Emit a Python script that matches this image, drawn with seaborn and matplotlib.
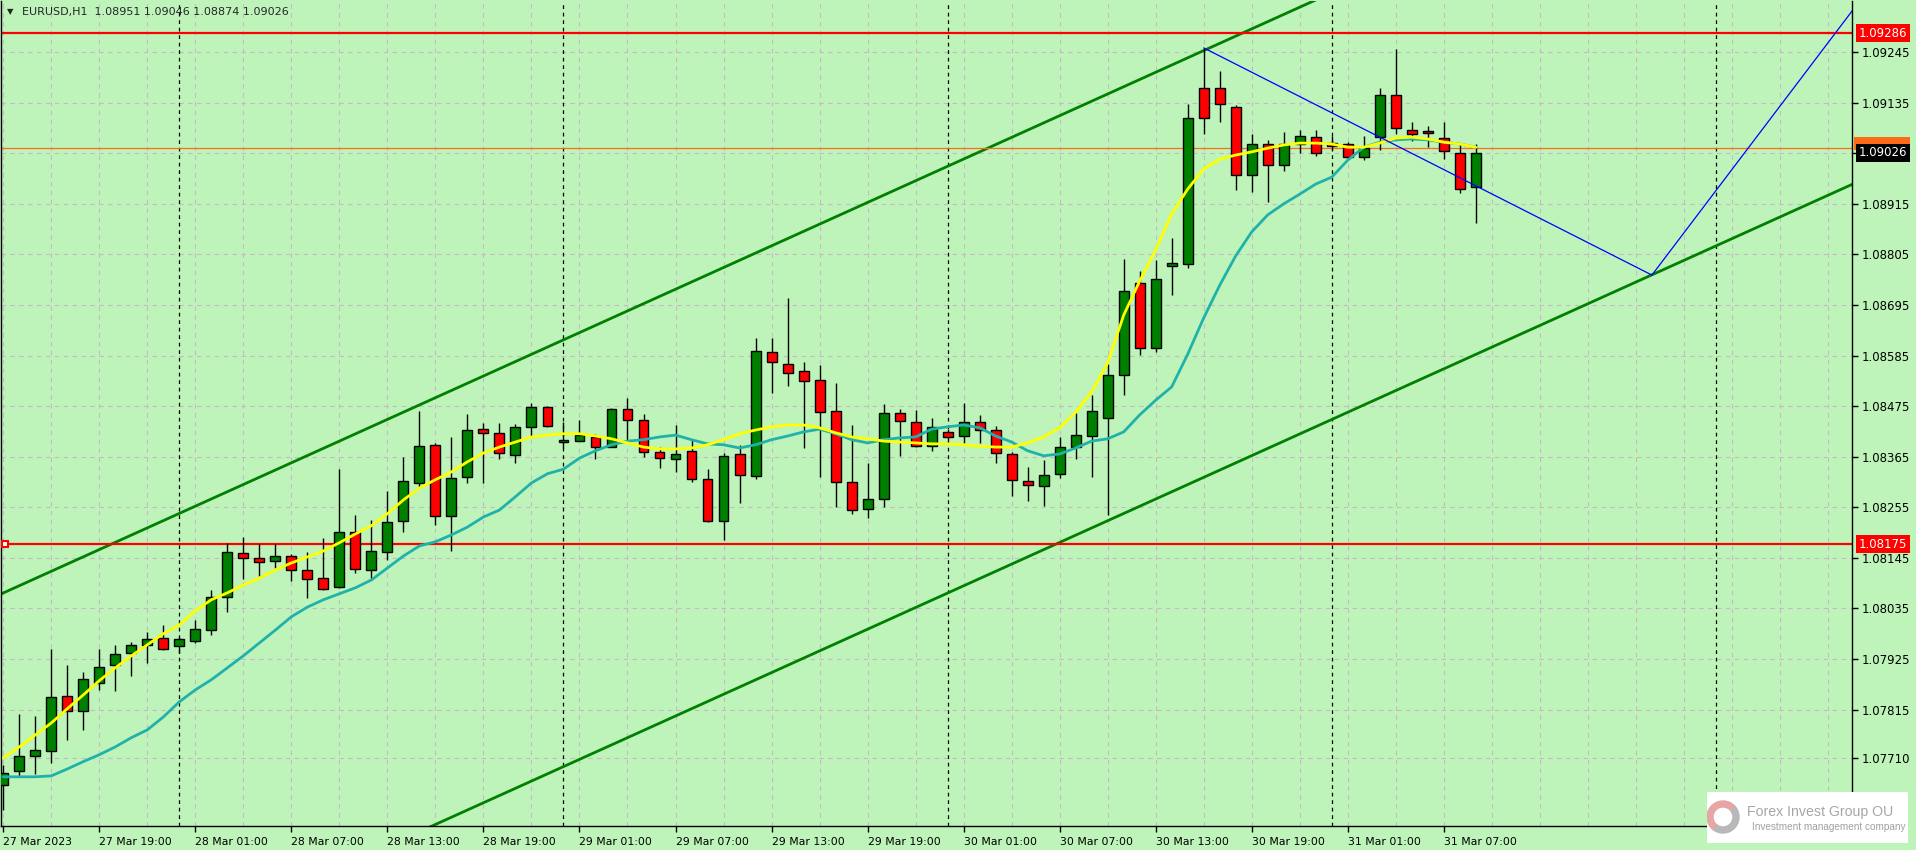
import matplotlib
matplotlib.use("Agg")
import matplotlib.pyplot as plt
import matplotlib.transforms as mtransforms
from matplotlib.patches import Wedge, Rectangle
import numpy as np
import pandas as pd
import seaborn as sns

# EURUSD H1, one bar per hour from 27 Mar 13:00 to 31 Mar 09:00
opens = [1.07651, 1.07682, 1.07714, 1.07725, 1.07845, 1.07812, 1.07873, 1.07912, 1.07938, 1.07956,
         1.07971, 1.07954, 1.07965, 1.07988, 1.08060, 1.08156, 1.08145, 1.08138, 1.08149, 1.08119,
         1.08101, 1.08082, 1.08201, 1.08119, 1.08158, 1.08225, 1.08308, 1.08391, 1.08236, 1.08321,
         1.08425, 1.08417, 1.08369, 1.08430, 1.08473, 1.08397, 1.08399, 1.08408, 1.08386, 1.08469,
         1.08445, 1.08375, 1.08360, 1.08378, 1.08317, 1.08225, 1.08371, 1.08323, 1.08593, 1.08567,
         1.08552, 1.08532, 1.08465, 1.08310, 1.08252, 1.08273, 1.08460, 1.08441, 1.08388, 1.08419,
         1.08410, 1.08441, 1.08423, 1.08371, 1.08312, 1.08302, 1.08328, 1.08386, 1.08410, 1.08449,
         1.08543, 1.08743, 1.08602, 1.08780, 1.08784, 1.09167, 1.09167, 1.09125, 1.08978, 1.09045,
         1.08999, 1.09045, 1.09060, 1.09047, 1.09045, 1.09017, 1.09060, 1.09152, 1.09075, 1.09073,
         1.09058, 1.09025, 1.08951]
highs = [1.07695, 1.07806, 1.07801, 1.07947, 1.07912, 1.07897, 1.07947, 1.07956, 1.07962, 1.07984,
         1.07999, 1.07973, 1.08010, 1.08075, 1.08178, 1.08191, 1.08175, 1.08175, 1.08154, 1.08158,
         1.08188, 1.08338, 1.08238, 1.08228, 1.08291, 1.08365, 1.08465, 1.08395, 1.08408, 1.08458,
         1.08438, 1.08438, 1.08436, 1.08482, 1.08475, 1.08441, 1.08445, 1.08415, 1.08471, 1.08493,
         1.08458, 1.08386, 1.08434, 1.08402, 1.08338, 1.08373, 1.08391, 1.08623, 1.08623, 1.08710,
         1.08571, 1.08565, 1.08525, 1.08434, 1.08352, 1.08480, 1.08469, 1.08467, 1.08449, 1.08425,
         1.08482, 1.08456, 1.08432, 1.08375, 1.08343, 1.08358, 1.08408, 1.08460, 1.08499, 1.08567,
         1.08795, 1.08769, 1.08793, 1.08841, 1.09132, 1.09254, 1.09204, 1.09130, 1.09067, 1.09054,
         1.09071, 1.09075, 1.09075, 1.09062, 1.09049, 1.09062, 1.09167, 1.09252, 1.09093, 1.09084,
         1.09093, 1.09045, 1.09046]
lows = [1.07597, 1.07669, 1.07675, 1.07699, 1.07749, 1.07771, 1.07858, 1.07856, 1.07888, 1.07917,
        1.07945, 1.07938, 1.07960, 1.07978, 1.08028, 1.08099, 1.08106, 1.08123, 1.08095, 1.08058,
        1.08075, 1.08080, 1.08112, 1.08097, 1.08141, 1.08201, 1.08297, 1.08217, 1.08160, 1.08308,
        1.08308, 1.08360, 1.08352, 1.08410, 1.08430, 1.08384, 1.08399, 1.08360, 1.08386, 1.08402,
        1.08365, 1.08341, 1.08332, 1.08310, 1.08224, 1.08184, 1.08265, 1.08317, 1.08504, 1.08519,
        1.08384, 1.08321, 1.08256, 1.08241, 1.08232, 1.08256, 1.08367, 1.08386, 1.08378, 1.08402,
        1.08395, 1.08395, 1.08352, 1.08280, 1.08269, 1.08258, 1.08319, 1.08360, 1.08321, 1.08238,
        1.08499, 1.08586, 1.08593, 1.08717, 1.08775, 1.09067, 1.09093, 1.08945, 1.08941, 1.08919,
        1.08986, 1.09025, 1.09019, 1.09032, 1.09015, 1.09010, 1.09032, 1.09067, 1.09052, 1.09038,
        1.09012, 1.08938, 1.08874]
closes = [1.07678, 1.07714, 1.07728, 1.07843, 1.07812, 1.07882, 1.07908, 1.07936, 1.07956, 1.07969,
          1.07947, 1.07969, 1.07991, 1.08060, 1.08158, 1.08145, 1.08136, 1.08149, 1.08119, 1.08099,
          1.08078, 1.08201, 1.08121, 1.08160, 1.08223, 1.08312, 1.08388, 1.08236, 1.08319, 1.08423,
          1.08417, 1.08373, 1.08430, 1.08473, 1.08432, 1.08402, 1.08412, 1.08386, 1.08469, 1.08445,
          1.08375, 1.08362, 1.08371, 1.08317, 1.08225, 1.08367, 1.08325, 1.08595, 1.08571, 1.08547,
          1.08530, 1.08462, 1.08310, 1.08249, 1.08273, 1.08460, 1.08443, 1.08388, 1.08430, 1.08408,
          1.08441, 1.08423, 1.08373, 1.08315, 1.08304, 1.08325, 1.08386, 1.08412, 1.08465, 1.08543,
          1.08725, 1.08602, 1.08752, 1.08786, 1.09102, 1.09102, 1.09132, 1.08978, 1.09045, 1.08999,
          1.09045, 1.09062, 1.09025, 1.09041, 1.09017, 1.09036, 1.09152, 1.09080, 1.09067, 1.09069,
          1.09030, 1.08947, 1.09026]

# two moving averages (yellow = fast, teal = slow)
ma_fast = [1.07710, 1.07734, 1.07760, 1.07786, 1.07817, 1.07847, 1.07878, 1.07906, 1.07932, 1.07956,
           1.07980, 1.07999, 1.08030, 1.08054, 1.08069, 1.08086, 1.08101, 1.08119, 1.08134, 1.08147,
           1.08160, 1.08178, 1.08197, 1.08215, 1.08241, 1.08271, 1.08297, 1.08315, 1.08332, 1.08354,
           1.08373, 1.08386, 1.08397, 1.08408, 1.08412, 1.08415, 1.08415, 1.08410, 1.08404, 1.08395,
           1.08386, 1.08382, 1.08382, 1.08384, 1.08391, 1.08402, 1.08415, 1.08423, 1.08430, 1.08434,
           1.08434, 1.08428, 1.08417, 1.08408, 1.08404, 1.08399, 1.08397, 1.08395, 1.08393, 1.08393,
           1.08391, 1.08388, 1.08386, 1.08386, 1.08395, 1.08408, 1.08428, 1.08462, 1.08506, 1.08569,
           1.08673, 1.08747, 1.08815, 1.08893, 1.08947, 1.08991, 1.09012, 1.09021, 1.09028, 1.09036,
           1.09043, 1.09047, 1.09047, 1.09045, 1.09038, 1.09038, 1.09047, 1.09058, 1.09060, 1.09056,
           1.09049, 1.09045, 1.09038]
ma_slow = [1.07669, 1.07669, 1.07669, 1.07671, 1.07686, 1.07702, 1.07717, 1.07734, 1.07754, 1.07771,
           1.07799, 1.07832, 1.07858, 1.07880, 1.07906, 1.07932, 1.07960, 1.07988, 1.08017, 1.08038,
           1.08054, 1.08067, 1.08080, 1.08097, 1.08123, 1.08149, 1.08171, 1.08180, 1.08195, 1.08212,
           1.08234, 1.08249, 1.08278, 1.08308, 1.08328, 1.08338, 1.08362, 1.08378, 1.08391, 1.08399,
           1.08402, 1.08408, 1.08412, 1.08402, 1.08393, 1.08391, 1.08384, 1.08391, 1.08402, 1.08410,
           1.08419, 1.08425, 1.08415, 1.08402, 1.08395, 1.08402, 1.08406, 1.08408, 1.08425, 1.08430,
           1.08434, 1.08428, 1.08410, 1.08397, 1.08378, 1.08367, 1.08371, 1.08384, 1.08399, 1.08404,
           1.08419, 1.08456, 1.08488, 1.08517, 1.08588, 1.08667, 1.08738, 1.08802, 1.08854, 1.08891,
           1.08915, 1.08936, 1.08958, 1.08973, 1.09010, 1.09038, 1.09049, 1.09054, 1.09056, 1.09054,
           1.09049, 1.09045, 1.09038]

x_tick_labels = ["27 Mar 2023", "27 Mar 19:00", "28 Mar 01:00", "28 Mar 07:00", "28 Mar 13:00",
                 "28 Mar 19:00", "29 Mar 01:00", "29 Mar 07:00", "29 Mar 13:00", "29 Mar 19:00",
                 "30 Mar 01:00", "30 Mar 07:00", "30 Mar 13:00", "30 Mar 19:00", "31 Mar 01:00",
                 "31 Mar 07:00"]
price_ticks = [1.09245, 1.09135, 1.09025, 1.08915, 1.08805, 1.08695, 1.08585, 1.08475,
               1.08365, 1.08255, 1.08145, 1.08035, 1.07925, 1.07815, 1.07710]

resistance = 1.09286
support = 1.08175
ask_price = 1.09037

# trend lines: (bar, price) anchors
channel_bars = [-1, 116]
channel_upper = [1.08053, 1.09893]
channel_lower = [1.07125, 1.08965]
path_bars = [75, 103, 116]
path_prices = [1.09254, 1.08760, 1.09357]

BG = "#bef4ba"
GRID = "#c6b9c6"
W, H = 1916, 850

sns.set_style("ticks", {"axes.facecolor": BG, "figure.facecolor": BG})
plt.rcParams["font.family"] = ["DejaVu Sans"]

df = pd.DataFrame({"bar": np.arange(len(opens)), "open": opens, "high": highs,
                   "low": lows, "close": closes, "ma_fast": ma_fast, "ma_slow": ma_slow})
up = df["close"] >= df["open"]

fig = plt.figure(figsize=(W / 100, H / 100), dpi=100, facecolor=BG)
ax = fig.add_axes([1 / W, (H - 826) / H, (1852 - 1) / W, (826 - 1) / H])
ax.set_facecolor(BG)

# grid: every 3 hours vertically, at the price ticks horizontally
ax.set_xticks(np.arange(0, 116, 3), minor=True)
ax.set_xticks(np.arange(0, 6 * len(x_tick_labels), 6), x_tick_labels, ha="left")
ax.grid(which="both", axis="x", color=GRID, lw=0.8, ls=(0, (4, 4)), zorder=0)
ax.yaxis.tick_right()
# the label at the current price is hidden under the bid tag
ax.set_yticks(price_ticks, ["" if abs(p - closes[-1]) < 0.0002 else f"{p:.5f}" for p in price_ticks])
ax.grid(axis="y", color=GRID, lw=0.8, ls=(0, (4, 4)), zorder=0)

# day separators
for b in range(11, 116, 24):
    ax.axvline(b, color="black", lw=0.9, ls=(0, (3, 3)), zorder=1)

# channel + horizontal levels
sns.lineplot(x=channel_bars, y=channel_upper, color="#008000", lw=2, ax=ax, zorder=2)
sns.lineplot(x=channel_bars, y=channel_lower, color="#008000", lw=2, ax=ax, zorder=2)
ax.axhline(resistance, color="#ff0000", lw=1.6, zorder=2)
ax.axhline(support, color="#ff0000", lw=1.6, zorder=2)
ax.axhline(ask_price, color="#ff6a1a", lw=0.9, zorder=2)
tag = mtransforms.blended_transform_factory(ax.transAxes, ax.transData)
ax.plot([0.002], [support], marker="s", ms=5, mfc="white", mec="#ff0000", mew=1.5,
        transform=tag, clip_on=False, zorder=8)

# candles
ax.vlines(df["bar"], df["low"], df["high"], color="black", lw=1, zorder=4)
ax.bar(df["bar"], df["close"] - df["open"], bottom=df["open"], width=0.62,
       color=np.where(up, "#008000", "#ff0000"), edgecolor="black", linewidth=1, zorder=5)

# moving averages
sns.lineplot(data=df, x="bar", y="ma_slow", color="#20b2aa", lw=2, ax=ax, zorder=6)
sns.lineplot(data=df, x="bar", y="ma_fast", color="#ffff00", lw=2, ax=ax, zorder=6)

# projected path
sns.lineplot(x=path_bars, y=path_prices, color="#0000ff", lw=0.9, ax=ax, zorder=7)

ax.set_xlim(-0.14, 115.5)
ax.set_ylim(1.07562, 1.09356)
ax.set_xlabel("")
ax.set_ylabel("")
ax.tick_params(axis="x", which="major", length=4, width=1, pad=4, labelsize=7.8, colors="black")
ax.tick_params(axis="x", which="minor", length=0)
ax.tick_params(axis="y", length=4, width=1, pad=3, labelsize=8.5, colors="black")
ax.spines["top"].set_visible(False)
for s in ["left", "bottom", "right"]:
    ax.spines[s].set_color("black")
    ax.spines[s].set_linewidth(1)

# price tags on the right scale
def price_tag(price, color, z):
    ax.text(1.0036, price, f"{price:.5f}", transform=tag, ha="left", va="center",
            color="white", fontsize=8.5, clip_on=False, zorder=z,
            bbox=dict(boxstyle="square,pad=0.22", fc=color, ec="none"))

price_tag(resistance, "#ff0000", 10)
price_tag(support, "#ff0000", 10)
# ask tag sits almost fully behind the bid tag
ax.add_patch(Rectangle((1.0011, ask_price - 0.00006), 0.0303, 0.00030, transform=tag,
                       fc="#ff6a1a", ec="none", clip_on=False, zorder=9))
price_tag(closes[-1], "black", 11)

# header
fig.text(7 / W, 1 - 12 / H, "\u25bc", fontsize=6, va="center", ha="left")
fig.text(22 / W, 1 - 12 / H,
         f"EURUSD,H1  {opens[-1]:.5f} {highs[-1]:.5f} {lows[-1]:.5f} {closes[-1]:.5f}",
         fontsize=8, va="center", ha="left")

# logo box
lax = fig.add_axes([1707 / W, (H - 843) / H, 201 / W, 51 / H])
lax.set_xlim(0, 201)
lax.set_ylim(0, 51)
lax.set_facecolor("white")
lax.set_xticks([])
lax.set_yticks([])
for s in lax.spines.values():
    s.set_visible(False)
lax.add_patch(Wedge((16, 26), 16, 40, 235, width=6, color="#e6a6a6"))
lax.add_patch(Wedge((16, 26), 16, 235, 400, width=6, color="#b8b8b8"))
lax.text(40, 31, "Forex Invest Group OU", fontsize=10.2, color="#a6a6a6",
         family=["Liberation Sans", "DejaVu Sans"], va="center", ha="left")
lax.text(199, 16, "Investment management company", fontsize=7.2, color="#a0a0a0",
         family=["Liberation Sans", "DejaVu Sans"], va="center", ha="right")

fig.savefig("out.png", dpi=100, facecolor=BG)
